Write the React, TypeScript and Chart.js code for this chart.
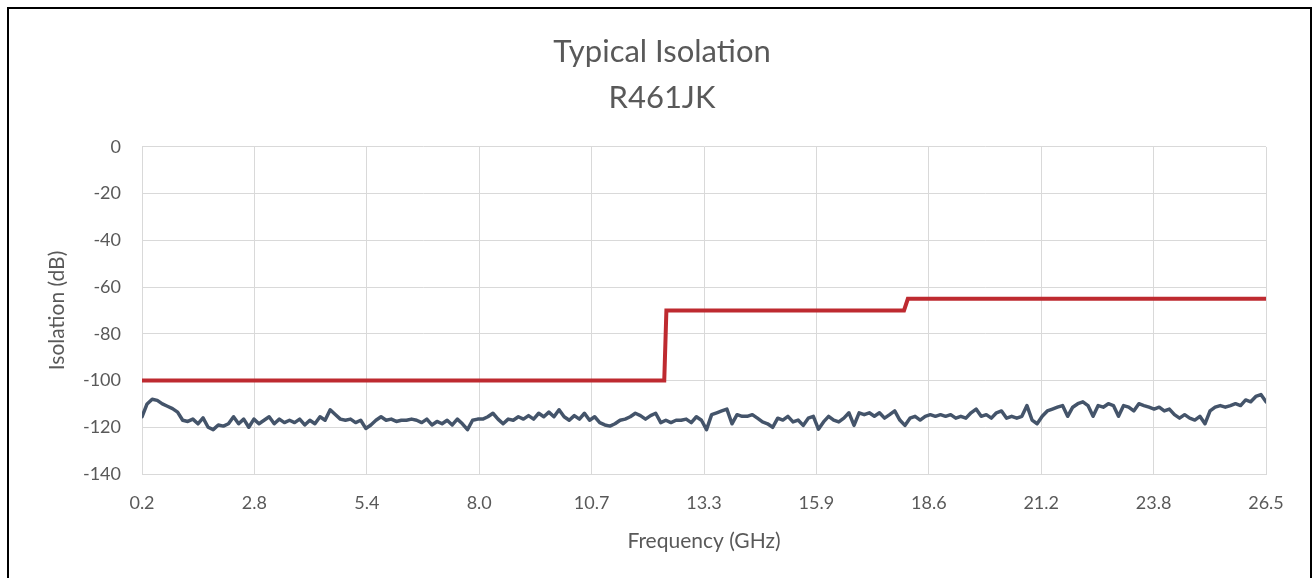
import React, { useEffect, useRef } from 'react';
import { Chart, registerables } from 'chart.js';

Chart.register(...registerables);

const chartTitle = ['Typical Isolation', 'R461JK'];
const xAxisTitle = 'Frequency (GHz)';
const yAxisTitle = 'Isolation (dB)';
const xTickLabels = ['0.2', '2.8', '5.4', '8.0', '10.7', '13.3', '15.9', '18.6', '21.2', '23.8', '26.5'];
const yMin = -140;
const yMax = 0;
const yStep = 20;

const freqStart = 0.2;
const freqStop = 26.5;

// measured isolation (dB), uniform sweep from freqStart to freqStop
const measuredIsolation = [
  -115.5, -110, -108, -108.5, -110, -111, -112, -113.5, -117, -117.5,
  -116.5, -118.5, -116, -120, -121, -119, -119.5, -118.5, -115.5, -118.5,
  -116.5, -120, -116.5, -118.5, -117, -115.5, -118.5, -116.5, -118, -117,
  -118, -116.5, -119, -117, -118.5, -115.5, -117, -112.5, -114.5, -116.5,
  -117, -116.5, -118, -117, -120.5, -119, -117, -115.5, -117, -116.5,
  -117.5, -117, -117, -116.5, -117, -118, -116.5, -119, -117.5, -118.5,
  -117, -119, -116.5, -118.5, -121, -117, -116.5, -116.5, -115.5, -114,
  -116.5, -118.5, -116.5, -117, -115.5, -116.5, -115, -116.5, -114, -115.5,
  -113.5, -115.5, -112.5, -115.5, -117, -115, -116.5, -114, -117, -115.5,
  -118, -119, -119.5, -118.5, -117, -116.5, -115.5, -114, -115, -116.5,
  -115, -114, -118, -117, -118, -117, -117, -116.5, -118, -115.5,
  -117,
  -121, -114.6, -113.8, -113, -112.2, -118.5, -114.6, -115.3, -115.3, -114.6,
  -116.1, -117.7, -118.5, -120, -116.1, -116.9, -115.3, -117.7, -116.9, -119.2,
  -116.1, -115.3, -120.8, -117.7, -115.3, -116.9, -117.7, -116.1, -113.8, -119.2,
  -113.8, -114.6, -113.8, -115.3, -113.8, -116.1, -114.6, -113, -116.9, -119.2,
  -116.1, -115.3, -116.9, -115.3, -114.6, -115.3, -114.6, -115.3, -114.6, -116.1,
  -115.3, -116.1, -113.8, -112.2, -115.3, -114.6, -116.1, -113.8, -113, -116.1,
  -115.3, -116.1, -115.3, -110.7, -116.9, -118.5, -115.3, -113, -112.2, -111.4,
  -110.7, -115.3, -111.4, -109.9, -109.1, -110.7, -115.3, -110.7, -111.4, -109.9,
  -110.7, -115.3, -110.7, -111.4, -113, -109.9, -110.7, -111.4, -112.2, -111.4,
  -113, -112.2, -114.6, -116.1, -114.6, -116.1, -116.9, -115.3, -118.5, -113,
  -111.4, -110.7, -111.4, -110.7, -109.9, -110.7, -108.3, -109.1, -106.8, -106,
  -109.1,
];

// specification limit (stepped)
const specFreq = [0.2, 12.42, 12.47, 18.03, 18.12, 26.5];
const specIsolation = [-100, -100, -70, -70, -65, -65];

const FONT = 'Lato, "Open Sans", "DejaVu Sans", sans-serif';
const TEXT = '#595959';
const GRID = '#D9D9D9';

export default function App() {
  const canvasRef = useRef<HTMLCanvasElement | null>(null);

  useEffect(() => {
    const canvas = canvasRef.current;
    if (!canvas) return;
    const n = measuredIsolation.length;
    const measuredPts = measuredIsolation.map((v, i) => ({
      x: freqStart + (i * (freqStop - freqStart)) / (n - 1),
      y: v,
    }));
    const specPts = specFreq.map((f, i) => ({ x: f, y: specIsolation[i] }));

    const chart = new Chart(canvas, {
      type: 'line',
      data: {
        datasets: [
          {
            label: 'Isolation',
            data: measuredPts,
            borderColor: '#44546A',
            borderWidth: 3.5,
            pointRadius: 0,
            tension: 0,
            borderJoinStyle: 'round',
            borderCapStyle: 'round',
          },
          {
            label: 'Spec',
            data: specPts,
            borderColor: '#BE2A30',
            borderWidth: 4,
            pointRadius: 0,
            tension: 0,
            borderJoinStyle: 'miter',
          },
        ],
      },
      options: {
        animation: false,
        responsive: false,
        layout: { padding: { left: 41, right: 30, top: 9, bottom: 0 } },
        plugins: {
          legend: { display: false },
          tooltip: { enabled: false },
          title: {
            display: true,
            text: chartTitle,
            color: TEXT,
            font: { family: FONT, size: 31, weight: 'normal', lineHeight: 1.48 },
            padding: { top: 20, bottom: 26.2 },
          },
        },
        scales: {
          x: {
            type: 'linear',
            min: freqStart,
            max: freqStop,
            afterBuildTicks: (scale: any) => {
              const k = xTickLabels.length - 1;
              scale.ticks = xTickLabels.map((_, i) => ({
                value: freqStart + (i * (freqStop - freqStart)) / k,
              }));
            },
            afterFit: (scale: any) => {
              scale.height = 104;
            },
            ticks: {
              autoSkip: false,
              maxRotation: 0,
              padding: 18,
              color: TEXT,
              font: { family: FONT, size: 18 },
              callback: (_v: any, i: number) => xTickLabels[i],
            },
            grid: { color: GRID, lineWidth: 1, drawTicks: false },
            border: { color: GRID },
            title: {
              display: true,
              text: xAxisTitle,
              color: TEXT,
              font: { family: FONT, size: 21 },
              padding: { top: 0, bottom: 24.4 },
            },
          },
          y: {
            min: yMin,
            max: yMax,
            afterFit: (scale: any) => {
              scale.width = 101;
            },
            ticks: {
              stepSize: yStep,
              padding: 21,
              color: TEXT,
              font: { family: FONT, size: 18 },
            },
            grid: { color: GRID, lineWidth: 1, drawTicks: false },
            border: { color: GRID },
            title: {
              display: true,
              text: yAxisTitle,
              color: TEXT,
              font: { family: FONT, size: 21 },
              padding: { top: 4, bottom: 0 },
            },
          },
          y2: {
            position: 'right',
            display: true,
            afterFit: (scale: any) => {
              scale.width = 17;
            },
            ticks: { display: false },
            grid: { display: false },
            border: { display: false },
          },
        },
      },
    } as any);

    return () => chart.destroy();
  }, []);

  return (
    <div
      style={{
        position: 'fixed',
        left: 0,
        top: 0,
        width: 1313,
        height: 578,
        overflow: 'hidden',
        background: '#ffffff',
      }}
    >
      <div
        style={{
          position: 'absolute',
          left: 7,
          top: 7,
          width: 1305,
          height: 640,
          border: '2px solid #000',
          boxSizing: 'border-box',
        }}
      />
      <canvas
        ref={canvasRef}
        width={1313}
        height={578}
        style={{ position: 'absolute', left: 0, top: 0, width: 1313, height: 578 }}
      />
    </div>
  );
}
